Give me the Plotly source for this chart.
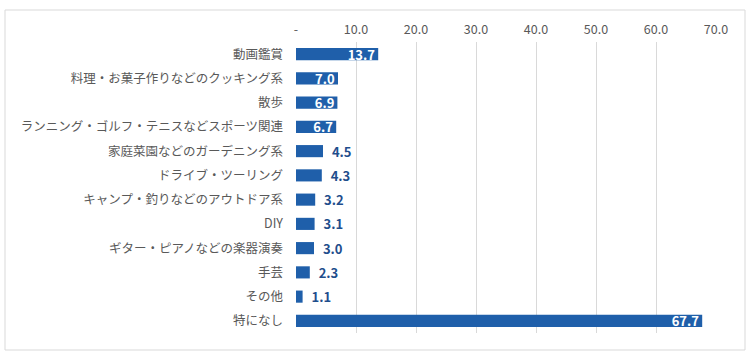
import plotly.graph_objects as go

categories = ["動画鑑賞", "料理・お菓子作りなどのクッキング系", "散歩", "ランニング・ゴルフ・テニスなどスポーツ関連",
              "家庭菜園などのガーデニング系", "ドライブ・ツーリング", "キャンプ・釣りなどのアウトドア系", "DIY",
              "ギター・ピアノなどの楽器演奏", "手芸", "その他", "特になし"]
values = [13.7, 7.0, 6.9, 6.7, 4.5, 4.3, 3.2, 3.1, 3.0, 2.3, 1.1, 67.7]
tick_vals = [0, 10, 20, 30, 40, 50, 60, 70]
tick_text = ["-", "10.0", "20.0", "30.0", "40.0", "50.0", "60.0", "70.0"]

inside = [v >= 6.5 for v in values]
positions = ["inside" if i else "outside" for i in inside]
text_colors = ["white" if i else "#1F4E8C" for i in inside]
labels = [f"{v:.1f}" if i else f"  {v:.1f}" for v, i in zip(values, inside)]

fig = go.Figure(go.Bar(
    y=categories, x=values, orientation="h",
    marker=dict(color="#1F5FAA", line=dict(color="#1F5FAA", width=0)),
    text=labels,
    textposition=positions,
    insidetextanchor="end",
    constraintext="none",
    textfont=dict(color=text_colors, size=13, family="Noto Sans CJK JP", weight="bold"),
    cliponaxis=False,
    hoverinfo="skip",
))

fig.update_layout(
    width=750, height=360,
    margin=dict(l=296, r=34, t=42, b=27),
    paper_bgcolor="white", plot_bgcolor="white",
    bargap=0.5,
    showlegend=False,
    font=dict(family="Noto Sans CJK JP", color="#595959", size=12.5),
    xaxis=dict(side="top", range=[0, 70], tickvals=tick_vals, ticktext=tick_text,
               showgrid=True, gridcolor="#D9D9D9", gridwidth=1, zeroline=False,
               showline=False, ticks="", automargin=False, ticklabelstandoff=5,
               tickfont=dict(size=12.5, color="#595959")),
    yaxis=dict(autorange="reversed", showgrid=False, ticks="", showline=False,
               automargin=False, ticklabelstandoff=12,
               tickfont=dict(size=12.5, color="#595959")),
    shapes=[dict(type="rect", xref="paper", yref="paper",
                 x0=(5 - 296) / 420, x1=(745 - 296) / 420,
                 y0=-(350 - 333) / 291, y1=1 + (42 - 10) / 291,
                 line=dict(color="#D9D9D9", width=1), layer="below")],
)

fig.write_html("out.html", config={"displayModeBar": False},
               post_script="document.body.style.margin='0';window.dispatchEvent(new Event('resize'));")
